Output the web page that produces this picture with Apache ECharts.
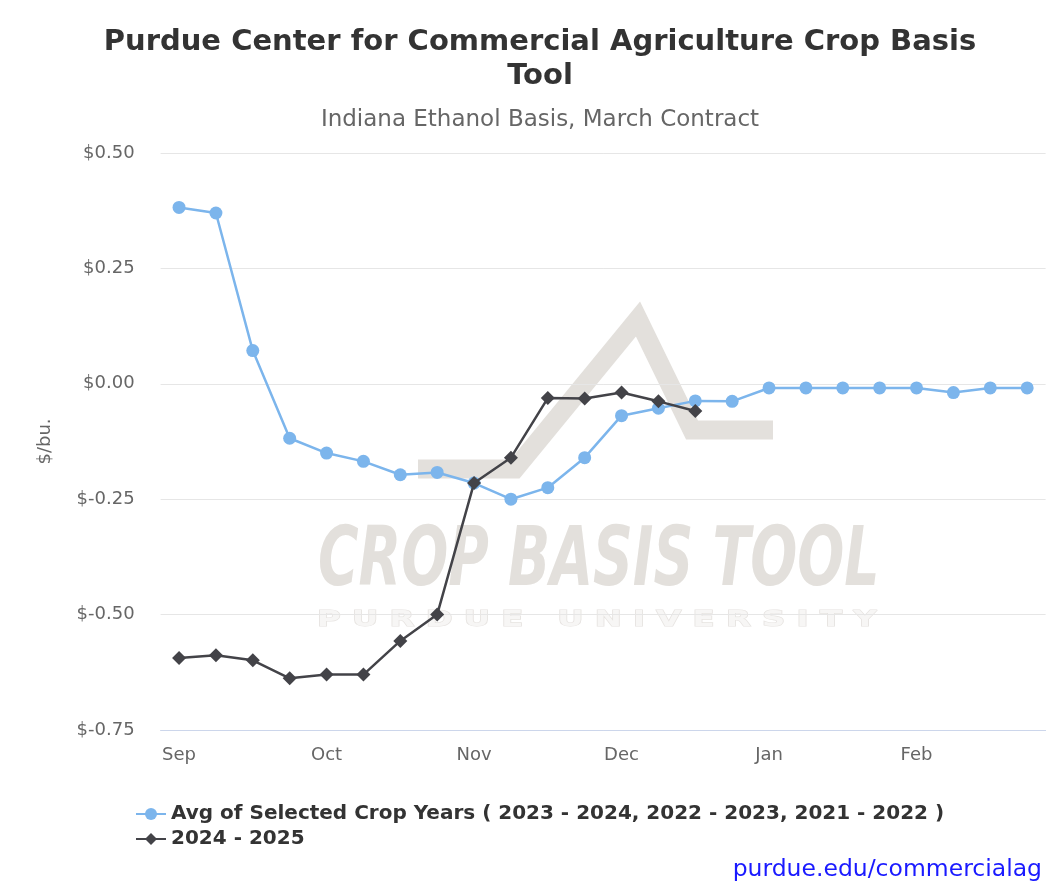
<!DOCTYPE html>
<html>
<head>
<meta charset="utf-8">
<script src="https://cdn.jsdelivr.net/npm/echarts@6/dist/echarts.min.js"></script>
<style>html,body{margin:0;padding:0;background:#fff;}#c{width:1055px;height:888px;}</style>
</head>
<body>
<div id="c"></div>
<script>
// ---- data ----
const weeks = ['W1','W2','W3','W4','W5','W6','W7','W8','W9','W10','W11','W12','W13','W14','W15','W16','W17','W18','W19','W20','W21','W22','W23','W24'];
const monthTicks = {0:'Sep',4:'Oct',8:'Nov',12:'Dec',16:'Jan',20:'Feb'};
const avgSelected = [0.382, 0.370, 0.072, -0.118, -0.150, -0.168, -0.197, -0.192, -0.215, -0.250, -0.225, -0.160, -0.069, -0.053, -0.037, -0.038, -0.009, -0.009, -0.009, -0.009, -0.009, -0.019, -0.009, -0.009];
const year2425 = [-0.594, -0.588, -0.599, -0.638, -0.630, -0.630, -0.557, -0.500, -0.215, -0.160, -0.031, -0.032, -0.019, -0.038, -0.059];
const seriesNames = ['Avg of Selected Crop Years ( 2023 - 2024, 2022 - 2023, 2021 - 2022 )', '2024 - 2025'];

const chart = echarts.init(document.getElementById('c'), null, {renderer:'canvas'});
const font = 'DejaVu Sans';
const wm = '#e3e0dc';
chart.setOption({
  animation: false,
  backgroundColor: '#fff',
  title: [{
    text: 'Purdue Center for Commercial Agriculture Crop Basis\nTool',
    left: 535, top: 20, textAlign: 'center',
    textStyle: {fontFamily: font, fontSize: 29, fontWeight: 'bold', color: '#333', lineHeight: 34}
  },{
    text: 'Indiana Ethanol Basis, March Contract',
    left: 535, top: 104, textAlign: 'center',
    textStyle: {fontFamily: font, fontSize: 23, fontWeight: 'normal', color: '#666'}
  },{
    text: 'purdue.edu/commercialag',
    right: 8, top: 853,
    textStyle: {fontFamily: font, fontSize: 23.5, fontWeight: 'normal', color: '#1a1aff'}
  }],
  graphic: [
    {type:'polyline', z:-10, silent:true, shape:{points:[[418,469],[515,469],[638,319],[692,430],[773,430]]},
     style:{stroke:wm, lineWidth:19, fill:null, lineJoin:'miter', miterLimit:10}},
    {type:'text', z:-10, silent:true, x:318, y:523, scaleX:0.75,
     style:{text:'CROP BASIS TOOL', fill:wm, fontFamily:'DejaVu Sans Condensed', fontStyle:'italic', fontWeight:'bold', fontSize:82}},
    {type:'text', z:-10, silent:true, x:317, y:609, scaleX:1.47,
     style:{text:'P U R D U E   U N I V E R S I T Y', fill:'#f7f6f5', stroke:'#e6e3e0', lineWidth:1.2, fontFamily:'DejaVu Sans', fontWeight:'bold', fontSize:22}}
  ],
  legend: {
    orient: 'vertical', left: 130, top: 798, itemGap: 3,
    itemWidth: 30, itemHeight: 15,
    textStyle: {fontFamily: font, fontSize: 20, fontWeight: 'bold', color: '#333', lineHeight: 22},
    data: seriesNames
  },
  grid: {left: 160.6, right: 9.4, top: 153, bottom: 158, containLabel: false},
  xAxis: {
    type: 'category', data: weeks, boundaryGap: true,
    axisLine: {onZero: false, lineStyle: {color: '#ccd6eb'}},
    axisTick: {show: false},
    axisLabel: {interval: 0, color: '#666', fontFamily: font, fontSize: 18, margin: 16,
      formatter: (v, i) => monthTicks[i] || ''},
    splitLine: {show: false}
  },
  yAxis: {
    type: 'value', min: -0.75, max: 0.5, interval: 0.25,
    name: '$/bu.', nameLocation: 'middle', nameGap: 106, nameRotate: 90,
    nameTextStyle: {color: '#666', fontFamily: font, fontSize: 18},
    axisLine: {show: false}, axisTick: {show: false},
    axisLabel: {color: '#666', fontFamily: font, fontSize: 18, margin: 26,
      formatter: v => '$' + v.toFixed(2)},
    splitLine: {lineStyle: {color: '#e6e6e6', width: 1}}
  },
  series: [{
    name: seriesNames[0], type: 'line', data: avgSelected,
    symbol: 'circle', symbolSize: 13,
    lineStyle: {color: '#7cb5ec', width: 2.5}, itemStyle: {color: '#7cb5ec'}, z: 3
  },{
    name: seriesNames[1], type: 'line', data: year2425,
    symbol: 'diamond', symbolSize: 14,
    lineStyle: {color: '#434348', width: 2.5}, itemStyle: {color: '#434348'}, z: 4
  }]
});
</script>
</body>
</html>
